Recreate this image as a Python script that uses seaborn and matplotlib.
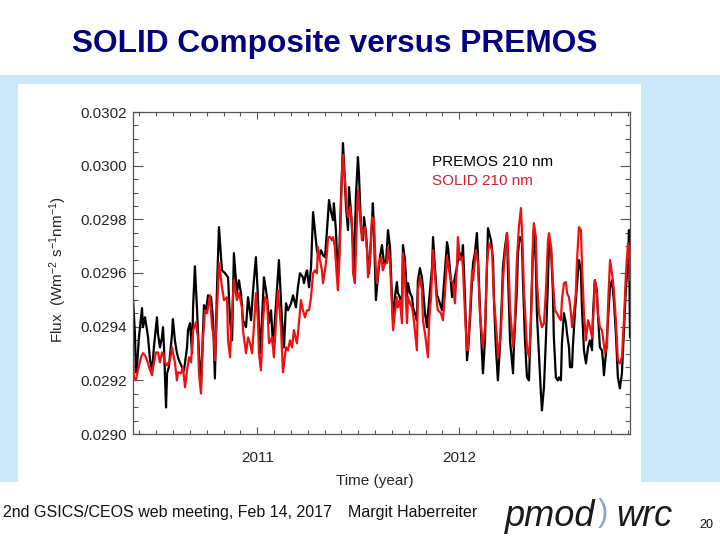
import pandas as pd
import matplotlib
matplotlib.use('Agg')
import matplotlib.pyplot as plt
from matplotlib.patches import Rectangle
from matplotlib.ticker import MultipleLocator, FormatStrFormatter
import seaborn as sns

# PREMOS 210 nm (black)
premos_time = [
    2010.385, 2010.394, 2010.399, 2010.404, 2010.414, 2010.429, 2010.434, 2010.444, 2010.454, 2010.459,
    2010.469, 2010.479, 2010.488, 2010.503, 2010.508, 2010.518, 2010.528, 2010.533, 2010.538, 2010.548,
    2010.553, 2010.562, 2010.578, 2010.582, 2010.592, 2010.602, 2010.612, 2010.627, 2010.637, 2010.652,
    2010.657, 2010.667, 2010.677, 2010.682, 2010.691, 2010.701, 2010.711, 2010.721, 2010.736, 2010.746,
    2010.756, 2010.771, 2010.781, 2010.790, 2010.800, 2010.810, 2010.825, 2010.840, 2010.855, 2010.865,
    2010.875, 2010.884, 2010.899, 2010.909, 2010.919, 2010.929, 2010.944, 2010.954, 2010.969, 2010.979,
    2010.993, 2011.003, 2011.013, 2011.023, 2011.033, 2011.048, 2011.058, 2011.068, 2011.078, 2011.087,
    2011.097, 2011.107, 2011.122, 2011.132, 2011.142, 2011.152, 2011.167, 2011.177, 2011.191, 2011.201,
    2011.211, 2011.226, 2011.231, 2011.241, 2011.246, 2011.256, 2011.266, 2011.276, 2011.285, 2011.295,
    2011.305, 2011.315, 2011.325, 2011.335, 2011.345, 2011.355, 2011.365, 2011.375, 2011.379, 2011.389,
    2011.399, 2011.404, 2011.414, 2011.424, 2011.429, 2011.439, 2011.449, 2011.454, 2011.464, 2011.474,
    2011.478, 2011.488, 2011.498, 2011.503, 2011.513, 2011.523, 2011.528, 2011.538, 2011.548, 2011.553,
    2011.563, 2011.572, 2011.577, 2011.587, 2011.597, 2011.607, 2011.617, 2011.627, 2011.637, 2011.647,
    2011.657, 2011.667, 2011.672, 2011.681, 2011.691, 2011.696, 2011.706, 2011.716, 2011.721, 2011.731,
    2011.741, 2011.746, 2011.756, 2011.766, 2011.771, 2011.780, 2011.790, 2011.795, 2011.805, 2011.815,
    2011.820, 2011.830, 2011.840, 2011.845, 2011.855, 2011.865, 2011.870, 2011.879, 2011.889, 2011.894,
    2011.904, 2011.914, 2011.919, 2011.929, 2011.939, 2011.944, 2011.954, 2011.964, 2011.969, 2011.978,
    2011.988, 2011.993, 2012.003, 2012.013, 2012.018, 2012.028, 2012.038, 2012.043, 2012.053, 2012.063,
    2012.068, 2012.077, 2012.087, 2012.092, 2012.102, 2012.112, 2012.117, 2012.127, 2012.137, 2012.142,
    2012.157, 2012.167, 2012.171, 2012.181, 2012.191, 2012.201, 2012.211, 2012.216, 2012.226, 2012.236,
    2012.241, 2012.251, 2012.266, 2012.270, 2012.285, 2012.290, 2012.300, 2012.310, 2012.315, 2012.325,
    2012.335, 2012.345, 2012.355, 2012.365, 2012.369, 2012.379, 2012.384, 2012.394, 2012.404, 2012.409,
    2012.419, 2012.429, 2012.439, 2012.444, 2012.454, 2012.463, 2012.468, 2012.478, 2012.488, 2012.493,
    2012.503, 2012.508, 2012.518, 2012.528, 2012.533, 2012.543, 2012.548, 2012.558, 2012.562, 2012.572,
    2012.582, 2012.592, 2012.602, 2012.607, 2012.617, 2012.627, 2012.637, 2012.647, 2012.657, 2012.662,
    2012.671, 2012.681, 2012.686, 2012.696, 2012.706, 2012.711, 2012.716, 2012.726, 2012.736, 2012.746,
    2012.756, 2012.765, 2012.775, 2012.785, 2012.795, 2012.805, 2012.815, 2012.825, 2012.835, 2012.840,
    2012.845,
]
premos_flux = [
    0.029499, 0.029375, 0.029230, 0.029249, 0.029360, 0.029469, 0.029398, 0.029435, 0.029387, 0.029360,
    0.029275, 0.029237, 0.029323, 0.029435, 0.029375, 0.029323, 0.029360, 0.029398, 0.029323, 0.029099,
    0.029226, 0.029249, 0.029375, 0.029428, 0.029349, 0.029301, 0.029275, 0.029249, 0.029237, 0.029323,
    0.029387, 0.029413, 0.029301, 0.029472, 0.029625, 0.029472, 0.029301, 0.029181, 0.029480, 0.029461,
    0.029517, 0.029510, 0.029424, 0.029207, 0.029536, 0.029771, 0.029610, 0.029599, 0.029584, 0.029424,
    0.029349, 0.029674, 0.029525, 0.029573, 0.029525, 0.029424, 0.029398, 0.029510, 0.029424, 0.029536,
    0.029659, 0.029510, 0.029301, 0.029424, 0.029584, 0.029510, 0.029413, 0.029461, 0.029323, 0.029424,
    0.029536, 0.029648, 0.029424, 0.029323, 0.029487, 0.029461, 0.029487, 0.029517, 0.029472, 0.029547,
    0.029599, 0.029584, 0.029562, 0.029599, 0.029610, 0.029547, 0.029622, 0.029827, 0.029760, 0.029685,
    0.029659, 0.029685, 0.029666, 0.029659, 0.029760, 0.029872, 0.029827, 0.029797, 0.029860, 0.029760,
    0.029584, 0.029637, 0.029872, 0.030084, 0.030010, 0.029846, 0.029760, 0.029920, 0.029823, 0.029696,
    0.029599, 0.029883, 0.030032, 0.029972, 0.029771, 0.029722, 0.029808, 0.029749, 0.029637, 0.029599,
    0.029722, 0.029860, 0.029771, 0.029499, 0.029584, 0.029659, 0.029704, 0.029637, 0.029637, 0.029760,
    0.029696, 0.029499, 0.029424, 0.029510, 0.029566, 0.029525, 0.029510, 0.029450, 0.029704, 0.029648,
    0.029510, 0.029562, 0.029525, 0.029510, 0.029472, 0.029450, 0.029424, 0.029573, 0.029618, 0.029584,
    0.029547, 0.029450, 0.029398, 0.029450, 0.029536, 0.029622, 0.029734, 0.029622, 0.029517, 0.029510,
    0.029487, 0.029461, 0.029510, 0.029610, 0.029715, 0.029696, 0.029610, 0.029510, 0.029536, 0.029584,
    0.029622, 0.029648, 0.029674, 0.029659, 0.029704, 0.029510, 0.029275, 0.029312, 0.029424, 0.029573,
    0.029637, 0.029674, 0.029749, 0.029674, 0.029472, 0.029301, 0.029226, 0.029349, 0.029637, 0.029767,
    0.029722, 0.029648, 0.029510, 0.029323, 0.029200, 0.029323, 0.029510, 0.029622, 0.029696, 0.029749,
    0.029599, 0.029349, 0.029226, 0.029323, 0.029536, 0.029674, 0.029734, 0.029722, 0.029573, 0.029349,
    0.029211, 0.029200, 0.029450, 0.029696, 0.029760, 0.029637, 0.029450, 0.029301, 0.029151, 0.029088,
    0.029174, 0.029360, 0.029573, 0.029722, 0.029696, 0.029536, 0.029360, 0.029211, 0.029200, 0.029211,
    0.029200, 0.029338, 0.029450, 0.029413, 0.029375, 0.029323, 0.029249, 0.029249, 0.029323, 0.029450,
    0.029547, 0.029648, 0.029610, 0.029472, 0.029312, 0.029263, 0.029323, 0.029349, 0.029312, 0.029450,
    0.029573, 0.029536, 0.029450, 0.029323, 0.029312, 0.029275, 0.029219, 0.029301, 0.029424, 0.029547,
    0.029573, 0.029499, 0.029375, 0.029211, 0.029170, 0.029226, 0.029387, 0.029547, 0.029637, 0.029760,
    0.029360,
]

# SOLID 210 nm (red)
solid_time = [
    2010.385, 2010.389, 2010.399, 2010.409, 2010.424, 2010.434, 2010.444, 2010.454, 2010.464, 2010.479,
    2010.484, 2010.498, 2010.508, 2010.518, 2010.528, 2010.533, 2010.543, 2010.553, 2010.568, 2010.578,
    2010.582, 2010.592, 2010.602, 2010.607, 2010.622, 2010.632, 2010.642, 2010.652, 2010.662, 2010.672,
    2010.682, 2010.696, 2010.706, 2010.711, 2010.721, 2010.731, 2010.741, 2010.751, 2010.766, 2010.776,
    2010.785, 2010.790, 2010.800, 2010.810, 2010.825, 2010.835, 2010.850, 2010.855, 2010.865, 2010.875,
    2010.884, 2010.899, 2010.909, 2010.924, 2010.929, 2010.944, 2010.954, 2010.964, 2010.974, 2010.983,
    2010.993, 2011.003, 2011.008, 2011.018, 2011.028, 2011.038, 2011.048, 2011.058, 2011.073, 2011.082,
    2011.092, 2011.102, 2011.117, 2011.127, 2011.142, 2011.152, 2011.162, 2011.172, 2011.181, 2011.196,
    2011.206, 2011.216, 2011.226, 2011.236, 2011.246, 2011.256, 2011.266, 2011.276, 2011.285, 2011.295,
    2011.300, 2011.310, 2011.320, 2011.325, 2011.335, 2011.345, 2011.350, 2011.360, 2011.370, 2011.375,
    2011.384, 2011.394, 2011.399, 2011.409, 2011.419, 2011.424, 2011.434, 2011.444, 2011.449, 2011.459,
    2011.469, 2011.474, 2011.483, 2011.493, 2011.498, 2011.508, 2011.518, 2011.523, 2011.533, 2011.543,
    2011.548, 2011.558, 2011.568, 2011.577, 2011.587, 2011.592, 2011.602, 2011.612, 2011.622, 2011.632,
    2011.642, 2011.647, 2011.657, 2011.667, 2011.672, 2011.681, 2011.691, 2011.696, 2011.706, 2011.716,
    2011.721, 2011.731, 2011.741, 2011.746, 2011.756, 2011.766, 2011.775, 2011.790, 2011.795, 2011.805,
    2011.815, 2011.820, 2011.830, 2011.845, 2011.850, 2011.860, 2011.870, 2011.879, 2011.889, 2011.894,
    2011.909, 2011.919, 2011.929, 2011.939, 2011.949, 2011.959, 2011.969, 2011.978, 2011.988, 2011.993,
    2012.003, 2012.013, 2012.018, 2012.028, 2012.038, 2012.043, 2012.053, 2012.063, 2012.068, 2012.082,
    2012.092, 2012.102, 2012.117, 2012.127, 2012.137, 2012.147, 2012.162, 2012.171, 2012.186, 2012.191,
    2012.206, 2012.216, 2012.226, 2012.236, 2012.241, 2012.251, 2012.266, 2012.275, 2012.285, 2012.295,
    2012.305, 2012.310, 2012.320, 2012.335, 2012.345, 2012.355, 2012.365, 2012.369, 2012.379, 2012.384,
    2012.394, 2012.409, 2012.419, 2012.429, 2012.439, 2012.444, 2012.454, 2012.463, 2012.473, 2012.483,
    2012.493, 2012.503, 2012.508, 2012.518, 2012.528, 2012.533, 2012.543, 2012.553, 2012.558, 2012.567,
    2012.577, 2012.582, 2012.592, 2012.602, 2012.607, 2012.617, 2012.627, 2012.637, 2012.647, 2012.657,
    2012.666, 2012.671, 2012.681, 2012.686, 2012.696, 2012.706, 2012.711, 2012.721, 2012.731, 2012.736,
    2012.746, 2012.756, 2012.765, 2012.775, 2012.785, 2012.795, 2012.805, 2012.815, 2012.825, 2012.835,
    2012.840, 2012.845,
]
solid_flux = [
    0.029275, 0.029211, 0.029200, 0.029237, 0.029286, 0.029301, 0.029293, 0.029275, 0.029249, 0.029219,
    0.029249, 0.029304, 0.029304, 0.029267, 0.029304, 0.029301, 0.029267, 0.029256, 0.029275, 0.029323,
    0.029304, 0.029267, 0.029200, 0.029230, 0.029226, 0.029249, 0.029174, 0.029237, 0.029286, 0.029267,
    0.029387, 0.029416, 0.029360, 0.029226, 0.029151, 0.029357, 0.029461, 0.029450, 0.029517, 0.029398,
    0.029360, 0.029275, 0.029450, 0.029637, 0.029547, 0.029499, 0.029510, 0.029349, 0.029286, 0.029450,
    0.029573, 0.029499, 0.029525, 0.029472, 0.029387, 0.029301, 0.029360, 0.029338, 0.029301, 0.029398,
    0.029525, 0.029424, 0.029301, 0.029237, 0.029424, 0.029510, 0.029499, 0.029338, 0.029360, 0.029286,
    0.029413, 0.029536, 0.029398, 0.029230, 0.029323, 0.029312, 0.029349, 0.029323, 0.029387, 0.029338,
    0.029413, 0.029499, 0.029461, 0.029435, 0.029461, 0.029461, 0.029510, 0.029599, 0.029610, 0.029599,
    0.029696, 0.029648, 0.029610, 0.029562, 0.029610, 0.029674, 0.029734, 0.029734, 0.029722, 0.029734,
    0.029696, 0.029584, 0.029536, 0.029696, 0.029972, 0.030040, 0.029946, 0.029834, 0.029808, 0.029846,
    0.029786, 0.029599, 0.029562, 0.029786, 0.029909, 0.029823, 0.029722, 0.029760, 0.029771, 0.029685,
    0.029584, 0.029659, 0.029808, 0.029797, 0.029610, 0.029562, 0.029637, 0.029659, 0.029610, 0.029637,
    0.029637, 0.029696, 0.029637, 0.029472, 0.029387, 0.029450, 0.029510, 0.029472, 0.029499, 0.029413,
    0.029674, 0.029573, 0.029413, 0.029510, 0.029487, 0.029472, 0.029424, 0.029312, 0.029536, 0.029584,
    0.029536, 0.029424, 0.029375, 0.029286, 0.029413, 0.029510, 0.029685, 0.029599, 0.029487, 0.029461,
    0.029450, 0.029424, 0.029525, 0.029659, 0.029610, 0.029573, 0.029562, 0.029487, 0.029622, 0.029734,
    0.029648, 0.029659, 0.029622, 0.029450, 0.029312, 0.029312, 0.029461, 0.029610, 0.029573, 0.029685,
    0.029637, 0.029450, 0.029323, 0.029398, 0.029637, 0.029711, 0.029685, 0.029510, 0.029360, 0.029286,
    0.029375, 0.029573, 0.029674, 0.029749, 0.029696, 0.029472, 0.029323, 0.029424, 0.029648, 0.029771,
    0.029842, 0.029760, 0.029536, 0.029323, 0.029286, 0.029413, 0.029734, 0.029786, 0.029734, 0.029573,
    0.029450, 0.029398, 0.029413, 0.029536, 0.029722, 0.029749, 0.029696, 0.029573, 0.029461, 0.029450,
    0.029435, 0.029424, 0.029499, 0.029562, 0.029566, 0.029525, 0.029510, 0.029450, 0.029398, 0.029450,
    0.029525, 0.029637, 0.029771, 0.029760, 0.029637, 0.029450, 0.029349, 0.029424, 0.029398, 0.029360,
    0.029472, 0.029573, 0.029525, 0.029450, 0.029398, 0.029387, 0.029360, 0.029301, 0.029323, 0.029472,
    0.029648, 0.029599, 0.029536, 0.029424, 0.029275, 0.029263, 0.029286, 0.029424, 0.029599, 0.029711,
    0.029696, 0.029573,
]

series_names = ['PREMOS 210 nm', 'SOLID 210 nm']
series_colors = ['#000000', '#ee1111']
text_colors = ['#000000', '#d42030']
year_ticks = [2011, 2012]

df = pd.concat([
    pd.DataFrame({'time': premos_time, 'flux': premos_flux, 'series': series_names[0]}),
    pd.DataFrame({'time': solid_time, 'flux': solid_flux, 'series': series_names[1]}),
], ignore_index=True)

sns.set_style('ticks')
plt.rcParams['font.family'] = ['Liberation Sans', 'DejaVu Sans']
plt.rcParams['mathtext.fontset'] = 'custom'
plt.rcParams['mathtext.rm'] = 'Liberation Sans'
plt.rcParams['mathtext.default'] = 'regular'

W, H = 720, 540
fig = plt.figure(figsize=(7.2, 5.4), dpi=100)
fig.patch.set_facecolor('white')

# slide background: light blue band and white chart panel (behind the axes)
fig.patches.append(Rectangle((0, 1 - 482 / H), 1, (482 - 75) / H, transform=fig.transFigure,
                             facecolor='#cde8fa', edgecolor='none', zorder=-10))
fig.patches.append(Rectangle((18 / W, 1 - 488 / H), (641 - 18) / W, (488 - 84) / H,
                             transform=fig.transFigure, facecolor='white', edgecolor='none',
                             zorder=-9))

ax = fig.add_axes([133.3 / W, 1 - 434 / H, (630 - 133.3) / W, (434 - 112) / H])
ax.set_zorder(5)
sns.lineplot(data=df, x='time', y='flux', hue='series', hue_order=series_names,
             palette=dict(zip(series_names, series_colors)), estimator=None, sort=False,
             legend=False, linewidth=1.6, ax=ax)

ax.set_xlim(2010.386, 2012.845)
ax.set_ylim(0.0290, 0.0302)
ax.set_xlabel('')
ax.set_ylabel('')
ax.set_xticks(year_ticks)
ax.set_xticklabels([str(y) for y in year_ticks])
ax.xaxis.set_minor_locator(MultipleLocator(1 / 12))
ax.yaxis.set_major_locator(MultipleLocator(0.0002))
ax.yaxis.set_minor_locator(MultipleLocator(0.00005))
ax.yaxis.set_major_formatter(FormatStrFormatter('%.4f'))

for s in ax.spines.values():
    s.set_color('#555555')
    s.set_linewidth(0.9)
ax.tick_params(which='both', direction='in', top=True, right=True, color='#555555', width=0.8)
ax.tick_params(axis='y', which='major', length=7, labelsize=11, pad=4.5)
ax.tick_params(axis='y', which='minor', length=3.6)
ax.tick_params(axis='x', which='major', length=5, labelsize=11, pad=12)
ax.tick_params(axis='x', which='minor', length=3)

# in-plot labels
for i, (name, col) in enumerate(zip(series_names, text_colors)):
    ax.text(0.601, 0.845 - i * 0.059, name, color=col, fontsize=11,
            transform=ax.transAxes, ha='left', va='center')

fig.text(58 / W, 1 - 270 / H, 'Flux  (Wm$^{-2}$ s$^{-1}$nm$^{-1}$)', rotation=90,
         ha='center', va='center', fontsize=11)
fig.text(375 / W, 1 - 481 / H, 'Time (year)', ha='center', va='center', fontsize=11)

# slide title and footer
fig.text(72 / W, 1 - 44 / H, 'SOLID Composite versus PREMOS', color='#000080',
         fontsize=22.8, fontweight='bold', ha='left', va='center')
fig.text(3 / W, 1 - 512 / H, '2nd GSICS/CEOS web meeting, Feb 14, 2017', fontsize=11.5,
         ha='left', va='center', color='#111111')
fig.text(348 / W, 1 - 512 / H, 'Margit Haberreiter', fontsize=11.5, ha='left', va='center',
         color='#111111')
fig.text(505 / W, 1 - 516 / H, 'pmod', fontsize=26, style='italic', ha='left', va='center',
         color='#1a1a1a')
fig.text(598 / W, 1 - 513 / H, ')', fontsize=22, ha='left', va='center', color='#8aa4c8')
fig.text(616 / W, 1 - 516 / H, 'wrc', fontsize=26, style='italic', ha='left', va='center',
         color='#1a1a1a')
fig.text(706 / W, 1 - 525 / H, '20', fontsize=9, ha='center', va='center', color='#111111')

fig.savefig('out.png', dpi=100)
